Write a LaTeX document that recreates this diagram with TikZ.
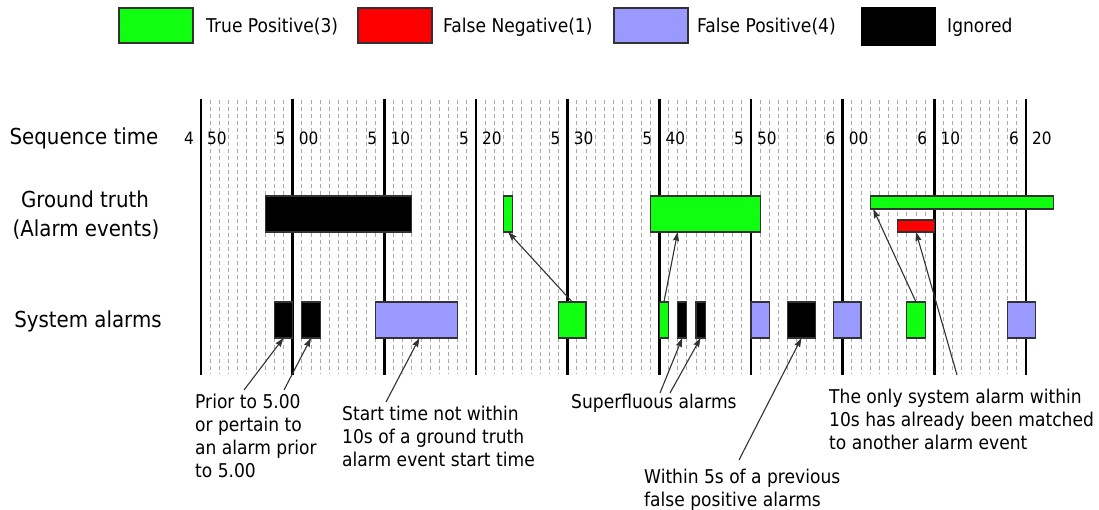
\documentclass[tikz,border=0pt]{standalone}
\usepackage{fontspec}
\setmainfont{DejaVu Sans}[FakeStretch=0.9]
\usetikzlibrary{arrows.meta,calc}
\definecolor{tpc}{RGB}{16,255,16}
\definecolor{fnc}{RGB}{255,0,0}
\definecolor{fpc}{RGB}{153,153,255}
\definecolor{ignc}{RGB}{0,0,0}
\definecolor{edgec}{RGB}{50,50,50}
\definecolor{gridc}{RGB}{170,170,170}
\newcommand\tz{201}
\newcommand\sx{9.1667}
% event box: name, colour, start s, end s, top y, height
\newcommand\evbox[6]{\node[evb, fill=#2, minimum width={(#4-#3)*\sx}, minimum height=#6] (#1) at ({\tz+#3*\sx},#5) {};}
\tikzset{
  evb/.style={draw=edgec, line width=1.2pt, inner sep=0pt, outer sep=0pt, anchor=north west},
  major/.style={line width=2.6pt, black},
  minor/.style={line width=0.9pt, gridc, dash pattern=on 4pt off 3pt},
  lbl/.style={font=\fontsize{22}{29}\selectfont, inner sep=0pt, anchor=base},
  tick/.style={font=\fontsize{17}{20}\selectfont, inner sep=0pt},
  note/.style={font=\fontsize{19}{23}\selectfont, align=left, inner sep=0pt, anchor=north west},
  leg/.style={font=\fontsize{19}{23}\selectfont, inner sep=0pt, anchor=base west},
  ptr/.style={-{Stealth[length=9pt,width=6pt,inset=1pt]}, line width=1.1pt, edgec},
}
\begin{document}
\begin{tikzpicture}[x=1pt,y=-1pt]
\useasboundingbox[fill=white] (0,0) rectangle (1099,510);

% legend
\node[evb, fill=tpc, minimum width=74, minimum height=35] (lg1) at (119,8) {};
\node[leg] (lt1) at (206,33) {True Positive(3)};
\node[evb, fill=fnc, minimum width=74, minimum height=35] (lg2) at (358,8) {};
\node[leg] (lt2) at (443,33) {False Negative(1)};
\node[evb, fill=fpc, minimum width=74, minimum height=35] (lg3) at (614,8) {};
\node[leg] (lt3) at (697,33) {False Positive(4)};
\node[evb, fill=ignc, draw=ignc, minimum width=73, minimum height=37] (lg4) at (862,8) {};
\node[leg] (lt4) at (947,33) {Ignored};

% row labels
\node[lbl] (seq) at (84,145) {Sequence time};
\node[lbl] (gt1) at (85,208) {Ground truth};
\node[lbl] (gt2) at (86,237) {(Alarm events)};
\node[lbl] (sys) at (88,327) {System alarms};

% grid
\foreach \t in {1,...,89}{
  \pgfmathtruncatemacro\m{mod(\t,10)}
  \ifnum\m=0\relax\else
    \draw[minor] ({\tz+\t*\sx},100) -- ({\tz+\t*\sx},374);
  \fi
}
\foreach \i in {0,...,9}{
  \draw[major] ({\tz+\i*10*\sx},99) -- ({\tz+\i*10*\sx},375);
}
\foreach \i/\a/\b in {0/4/50,1/5/00,2/5/10,3/5/20,4/5/30,5/5/40,6/5/50,7/6/00,8/6/10,9/6/20}{
  \node[tick, anchor=east] (tm\i) at ({\tz+\i*10*\sx-7},138) {\a};
  \node[tick, anchor=west] (ts\i) at ({\tz+\i*10*\sx+6},138) {\b};
}

% ground truth
\evbox{g1}{ignc}{7}{23}{196}{36}
\evbox{g2}{tpc}{33}{34}{196}{36}
\evbox{g3}{tpc}{49}{61}{196}{36}
\evbox{g4}{tpc}{73}{93}{196}{13}
\evbox{g5}{fnc}{76}{80}{220}{12}

% system alarms
\evbox{s1}{ignc}{8}{10}{302}{36}
\evbox{s2}{ignc}{11}{13}{302}{36}
\evbox{s3}{fpc}{19}{28}{302}{36}
\evbox{s4}{tpc}{39}{42}{302}{36}
\evbox{s5}{tpc}{50}{51}{302}{36}
\evbox{s6}{ignc}{52}{53}{302}{36}
\evbox{s7}{ignc}{54}{55}{302}{36}
\evbox{s8}{fpc}{60}{62}{302}{36}
\evbox{s9}{ignc}{64}{67}{302}{36}
\evbox{s10}{fpc}{69}{72}{302}{36}
\evbox{s11}{tpc}{77}{79}{302}{36}
\evbox{s12}{fpc}{88}{91}{302}{36}

% notes
\node[note] (n1) at (195,393.6) {Prior to 5.00\\or pertain to\\an alarm prior\\to 5.00};
\node[note] (n2) at (342,405.6) {Start time not within\\10s of a ground truth\\alarm event start time};
\node[note] (n3) at (571,393.6) {Superfluous alarms};
\node[note] (n4) at (644,468.6) {Within 5s of a previous\\false positive alarms};
\node[note] (n5) at (829,388.6) {The only system alarm within\\10s has already been matched\\to another alarm event};

% arrow start points
\coordinate (a1) at (244,390);
\coordinate (a2) at (284,390);
\coordinate (a3) at (386,402);
\coordinate (a4) at (660,393);
\coordinate (a5) at (670,393);
\coordinate (a6) at (739,460);
\coordinate (a7) at (957,375);

% connectors
\draw[ptr] (a1) -- (s1.south);
\draw[ptr] (a2) -- (s2.south);
\draw[ptr] (a3) -- ($(s3.south)+(3,0)$);
\draw[ptr] (s4.north) -- (g2.south);
\draw[ptr] (s5.north) -- ($(g3.south west)!0.25!(g3.south east)$);
\draw[ptr] (a4) -- (s6.south);
\draw[ptr] (a5) -- (s7.south);
\draw[ptr] (a6) -- (s9.south);
\draw[ptr] (s11.north) -- ($(g4.south west)+(3,0)$);
\draw[ptr] (a7) -- (g5.south);
\end{tikzpicture}
\end{document}
